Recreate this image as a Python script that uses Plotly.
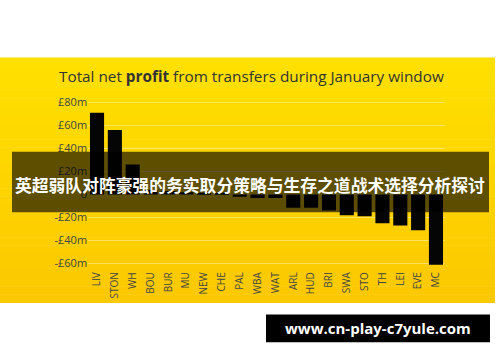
import plotly.graph_objects as go

clubs = ["LIV", "STON", "WH", "BOU", "BUR", "MU", "NEW", "CHE", "PAL", "WBA",
         "WAT", "ARL", "HUD", "BRI", "SWA", "STO", "TH", "LEI", "EVE", "MC"]
net_profit = [71, 56, 26, 4, 3, 2, 1, 1, -2, -3,
              -3, -11.5, -11.5, -14, -18, -19, -25, -27, -31, -61]
tick_vals = [-60, -40, -20, 0, 20, 40, 60, 80]
tick_text = ["-£60m", "-£40m", "-£20m", "0", "£20m", "£40m", "£60m", "£80m"]

W, H = 500, 362

def px(x):
    return x / W

def py(y):
    return 1 - y / H

fig = go.Figure()
fig.add_trace(go.Bar(x=clubs, y=net_profit, marker=dict(color="#050505", line=dict(width=0)),
                     hoverinfo="skip"))

shapes = []
# yellow background with vertical gradient
top, bot = 56, 303
n = 30
c0 = (255, 224, 0)
c1 = (252, 200, 0)
for i in range(n):
    t = i / (n - 1)
    c = tuple(int(round(c0[k] + (c1[k] - c0[k]) * t)) for k in range(3))
    y0 = top + (bot - top) * i / n
    y1 = top + (bot - top) * (i + 1) / n
    shapes.append(dict(type="rect", xref="paper", yref="paper", layer="below",
                       x0=px(0), x1=px(495), y0=py(y1 + 0.5), y1=py(y0),
                       fillcolor="rgb(%d,%d,%d)" % c, line=dict(width=0)))
# dark banner overlay
shapes.append(dict(type="rect", xref="paper", yref="paper", layer="above",
                   x0=px(12), x1=px(489), y0=py(212), y1=py(151),
                   fillcolor="rgba(0,0,0,0.63)", line=dict(width=0)))
# black url box
shapes.append(dict(type="rect", xref="paper", yref="paper", layer="above",
                   x0=px(266), x1=px(490), y0=py(343), y1=py(315),
                   fillcolor="#000000", line=dict(width=0)))

annotations = [
    dict(text="Total net <b>profit</b> from transfers during January window",
         xref="paper", yref="paper", x=px(57), y=py(75), xanchor="left", yanchor="middle",
         showarrow=False, font=dict(family="Open Sans", size=15.3, color="#333333")),
    dict(text="<b>英超弱队对阵豪强的务实取分策略与生存之道战术选择分析探讨</b>",
         xref="paper", yref="paper", x=px(250), y=py(185), xanchor="center", yanchor="middle",
         showarrow=False, font=dict(family="Noto Sans CJK SC", size=16.8, color="#ffffff")),
    dict(text="<b>www.cn-play-c7yule.com</b>",
         xref="paper", yref="paper", x=px(378), y=py(329), xanchor="center", yanchor="middle",
         showarrow=False, font=dict(family="Open Sans", size=15, color="#ffffff")),
]

fig.update_layout(
    width=W, height=H,
    margin=dict(l=0, r=0, t=0, b=0),
    paper_bgcolor="#ffffff",
    plot_bgcolor="rgba(0,0,0,0)",
    showlegend=False,
    bargap=0.21,
    shapes=shapes,
    annotations=annotations,
    xaxis=dict(domain=[88.1 / W, 444.9 / W], tickangle=-90, showgrid=False, zeroline=False,
               showline=False, ticks="", tickfont=dict(family="Open Sans", size=10, color="#444444"),
               fixedrange=True),
    yaxis=dict(domain=[py(269.5), py(95.5)], range=[-65, 85], tickvals=tick_vals,
               ticktext=tick_text, showgrid=True, gridcolor="rgba(255,240,170,0.55)", gridwidth=1,
               zeroline=False, showline=False, ticks="",
               tickfont=dict(family="Open Sans", size=11, color="#444444"), fixedrange=True),
)

fig.write_html("out.html", config={"displayModeBar": False},
               post_script="document.body.style.margin='0';document.body.style.overflow='hidden';")
